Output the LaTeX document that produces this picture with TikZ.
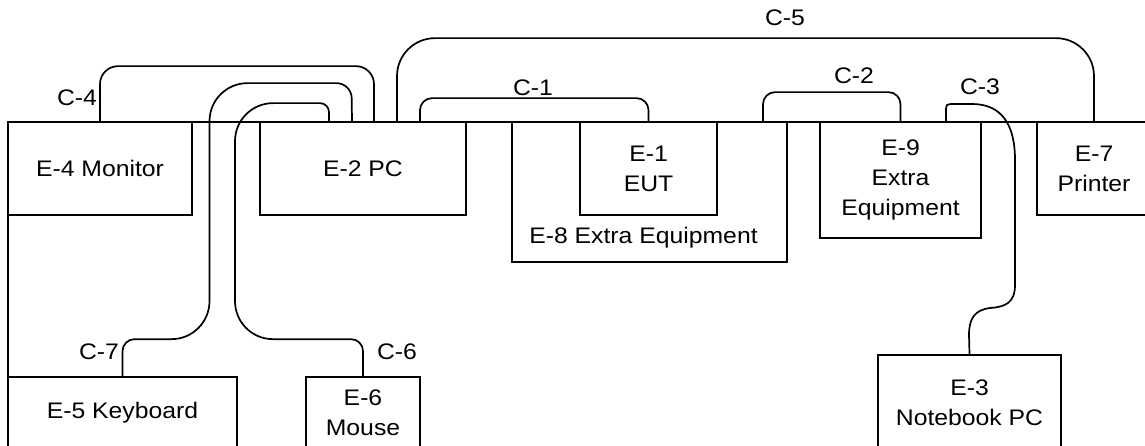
\documentclass[tikz,border=0pt]{standalone}
\usepackage{fontspec}
\setmainfont[FakeStretch=1.1]{Liberation Sans}
\usetikzlibrary{calc}

\begin{document}
\begin{tikzpicture}[x=1pt, y=-1pt]
        \tikzset{
            unit/.style={draw, line width=1.7pt, inner sep=0pt, align=center, font=\fontsize{22.5}{30}\selectfont},
            tag/.style={inner sep=0pt, align=center, font=\fontsize{22.5}{30}\selectfont},
            cable/.style={line width=1.7pt},
            desk/.style={line width=1.7pt}
        }
        \useasboundingbox (0,0) rectangle (1145,446);
        \clip (0,0) rectangle (1145,446);
        \draw[desk] (8,460) -- (8,122) -- (1160,122);
        \node[unit, minimum width=184pt, minimum height=93pt] (E4) at (100,168.5) {E-4 Monitor};
        \node[unit, minimum width=206pt, minimum height=93pt] (E2) at (363,168.5) {E-2 PC};
        \node[unit, minimum width=275pt, minimum height=140pt] (E8) at (649.5,192) {};
        \node[tag] (E8t) at ($(E8.south)+(-6,-25)$) {E-8 Extra Equipment};
        \node[unit, minimum width=137pt, minimum height=93pt] (E1) at (648.5,168.5) {E-1\\EUT};
        \node[unit, minimum width=161pt, minimum height=116pt] (E9) at (900.5,180) {E-9\\Extra\\Equipment};
        \node[unit, minimum width=114pt, minimum height=93pt] (E7) at (1094,168.5) {E-7\\Printer};
        \node[unit, minimum width=229pt, minimum height=72pt] (E5) at (122.5,413) {E-5 Keyboard};
        \node[unit, minimum width=114pt, minimum height=72pt] (E6) at (363,413) {E-6\\Mouse};
        \node[unit, minimum width=183pt, minimum height=96pt] (E3) at (969.5,403) {E-3\\Notebook PC};
        \draw[cable, rounded corners=12pt] ($(E2.north)+(57,0)$) -- ++(0,-23) -| (E1.north);
        \draw[cable, rounded corners=12pt] ($(E8.north)+(113.5,0)$) -- ++(0,-29) -| (E9.north);
        \draw[cable] ($(E9.north)+(45.5,0)$) -- (946,112) .. controls (946,104) .. (955,104) -- (972,104)
            .. controls (1002,104) and (1015,125) .. (1015,160) -- (1015,285)
            .. controls (1015,303) and (1005,307) .. (990,308)
            .. controls (975,310) and (969,318) .. (969,335) -- (E3.north);
        \draw[cable, rounded corners=18pt] (E4.north) -- ++(0,-55) -| ($(E2.north)+(11,0)$);
        \draw[cable, rounded corners=38pt] ($(E2.north)+(34,0)$) -- ++(0,-83) -| (E7.north);
        \draw[cable, rounded corners=12pt] (E6.north) -- ++(0,-37) [rounded corners=38pt] -- ++(-128,0) -- ++(0,-236) [rounded corners=9pt] -- ++(94,0) -- ($(E2.north)+(-34,0)$);
        \draw[cable, rounded corners=12pt] (E5.north) -- ++(0,-37) [rounded corners=38pt] -- ++(87,0) -- ++(0,-256) [rounded corners=15pt] -- ++(142,0) -- ($(E2.north)+(-11,0)$);
        \node[tag] (C1) at (533,88) {C-1};
        \node[tag] (C2) at (854,76) {C-2};
        \node[tag] (C3) at (980,87) {C-3};
        \node[tag] (C4) at (77,98) {C-4};
        \node[tag] (C5) at (785,18) {C-5};
        \node[tag] (C6) at (397,352) {C-6};
        \node[tag] (C7) at (99,352) {C-7};
    \end{tikzpicture}
\end{document}
